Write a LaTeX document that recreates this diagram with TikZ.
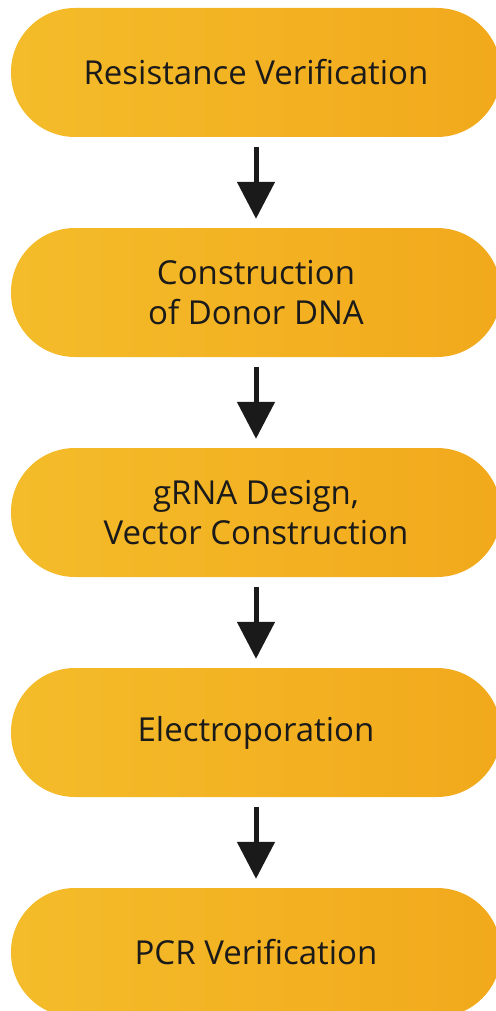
\documentclass[tikz,border=0pt]{standalone}
\usepackage{fontspec}
\setmainfont{Open Sans}
\usetikzlibrary{arrows.meta}
\definecolor{stepleft}{RGB}{244,188,42}
\definecolor{stepright}{RGB}{242,169,28}
\definecolor{steptext}{RGB}{26,26,26}
\begin{document}
\begin{tikzpicture}[x=1pt,y=-1pt,
    stepbox/.style={left color=stepleft,right color=stepright,draw=none,
      rounded corners=64pt,minimum width=490pt,minimum height=129pt,
      text=steptext,align=center,font=\fontsize{33}{40}\selectfont},
    flow/.style={-{Triangle[width=37pt,length=37pt]},line width=5pt,
      draw=steptext,shorten <=10pt,shorten >=9pt}]
      \useasboundingbox (0,0) rectangle (495,1011);
      \draw
        (256, 72.5) node[stepbox] (0){Resistance Verification}
        (256, 292.5) node[stepbox] (1){Construction\\of Donor DNA}
        (256, 512.5) node[stepbox] (2){gRNA Design,\\Vector Construction}
        (256, 732.5) node[stepbox] (3){Electroporation}
        (256, 952.5) node[stepbox] (4){PCR Verification};
      \begin{scope}[flow]
        \draw (0) to (1);
        \draw (1) to (2);
        \draw (2) to (3);
        \draw (3) to (4);
      \end{scope}
    \end{tikzpicture}
\end{document}
